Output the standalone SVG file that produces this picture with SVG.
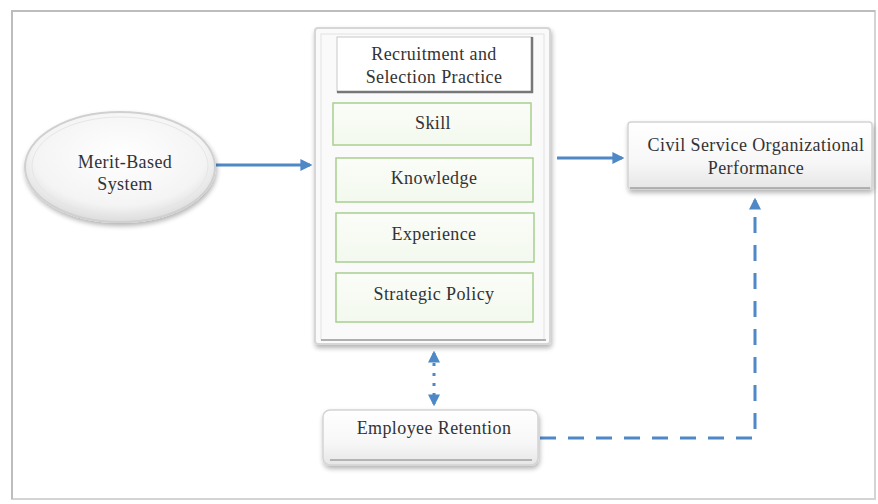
<svg xmlns="http://www.w3.org/2000/svg" width="878" height="504" viewBox="0 0 878 504">
  <style>
    .lbl { font-family: "Liberation Serif", "Times New Roman", serif; font-size: 18px; letter-spacing: 0.4px; fill: #333333; text-anchor: middle; }
    .green { fill: url(#greenFill); stroke: #a8cf8e; stroke-width: 1.5; }
    .flow { stroke: #4f88c6; stroke-width: 3; fill: none; }
  </style>
  <defs>
    <linearGradient id="boxFill" x1="0" y1="0" x2="0" y2="1">
      <stop offset="0" stop-color="#ffffff"/>
      <stop offset="0.6" stop-color="#f7f7f7"/>
      <stop offset="1" stop-color="#e6e6e6"/>
    </linearGradient>
    <linearGradient id="greenFill" x1="0" y1="0" x2="0" y2="1">
      <stop offset="0" stop-color="#fbfdf8"/>
      <stop offset="1" stop-color="#f3f9ee"/>
    </linearGradient>
    <radialGradient id="ovalFill" cx="0.5" cy="0.4" r="0.6">
      <stop offset="0" stop-color="#ffffff"/>
      <stop offset="0.75" stop-color="#f4f4f4"/>
      <stop offset="1" stop-color="#dcdcdc"/>
    </radialGradient>
    <filter id="shadow" x="-10%" y="-10%" width="130%" height="140%">
      <feGaussianBlur in="SourceAlpha" stdDeviation="2.5"/>
      <feOffset dx="1" dy="3" result="b"/>
      <feComponentTransfer><feFuncA type="linear" slope="0.3"/></feComponentTransfer>
      <feMerge><feMergeNode/><feMergeNode in="SourceGraphic"/></feMerge>
    </filter>
    <marker id="head" viewBox="0 0 10 10" refX="8" refY="5" markerWidth="4" markerHeight="4" orient="auto-start-reverse">
      <path d="M0,0 L10,5 L0,10 z" fill="#4f88c6"/>
    </marker>
  </defs>

  <!-- outer frame -->
  <rect x="12" y="11" width="863" height="488" fill="#ffffff" stroke="#d4d4d4" stroke-width="2"/>
  <path d="M12,499 V11 H875" fill="none" stroke="#bdbdbd" stroke-width="2"/>

  <!-- connectors -->
  <g id="connectors">
    <line class="flow" x1="216" y1="165" x2="310" y2="165" marker-end="url(#head)"/>
    <line class="flow" x1="557" y1="158" x2="622" y2="158" marker-end="url(#head)"/>
    <line class="flow" x1="434" y1="353" x2="434" y2="404" stroke-dasharray="3 7" marker-start="url(#head)" marker-end="url(#head)"/>
    <path class="flow" d="M540,438 H755 V200" stroke-dasharray="16 12" marker-end="url(#head)"/>
  </g>

  <!-- Merit-Based System -->
  <g id="merit">
    <ellipse cx="120" cy="167" rx="95" ry="55" fill="url(#ovalFill)" stroke="#d0d0d0" stroke-width="2" filter="url(#shadow)"/>
    <ellipse cx="120" cy="166" rx="88" ry="49" fill="none" stroke="#e6e6e6" stroke-width="1"/>
    <text class="lbl" x="125" y="168">Merit-Based</text>
    <text class="lbl" x="125" y="190">System</text>
  </g>

  <!-- Recruitment and selection group -->
  <g id="recruitment">
    <rect x="315" y="28" width="235" height="316" rx="3" fill="#fafafa" stroke="#d6d6d6" stroke-width="2" filter="url(#shadow)"/>
    <rect x="321" y="34" width="223" height="306" fill="none" stroke="#e2e2e2" stroke-width="1"/>
    <line x1="321" y1="340" x2="546" y2="340" stroke="#9a9a9a" stroke-width="1.5"/>
    <rect x="337" y="37" width="195" height="55" fill="#ffffff" stroke="#c8c8c8" stroke-width="1"/>
    <path d="M337,92 H532 V37" fill="none" stroke="#777777" stroke-width="2.5"/>
    <text class="lbl" x="434" y="60">Recruitment and</text>
    <text class="lbl" x="434" y="83">Selection Practice</text>
  </g>

  <g id="skill">
    <rect class="green" x="333" y="103" width="198" height="42"/>
    <text class="lbl" x="433" y="129">Skill</text>
  </g>
  <g id="knowledge">
    <rect class="green" x="336" y="158" width="197" height="44"/>
    <text class="lbl" x="434" y="184">Knowledge</text>
  </g>
  <g id="experience">
    <rect class="green" x="336" y="213" width="198" height="49"/>
    <text class="lbl" x="434" y="240">Experience</text>
  </g>
  <g id="strategic-policy">
    <rect class="green" x="336" y="273" width="197" height="49"/>
    <text class="lbl" x="434" y="300">Strategic Policy</text>
  </g>

  <!-- Civil Service Organizational Performance -->
  <g id="performance">
    <rect x="628" y="122" width="244" height="67" rx="3" fill="url(#boxFill)" stroke="#d4d4d4" stroke-width="1.5" filter="url(#shadow)"/>
    <line x1="630" y1="188" x2="870" y2="188" stroke="#a0a0a0" stroke-width="1.5"/>
    <text class="lbl" x="756" y="151">Civil Service Organizational</text>
    <text class="lbl" x="756" y="174">Performance</text>
  </g>

  <!-- Employee Retention -->
  <g id="retention">
    <rect x="323" y="410" width="215" height="55" rx="7" fill="url(#boxFill)" stroke="#d4d4d4" stroke-width="1.5" filter="url(#shadow)"/>
    <line x1="330" y1="460" x2="532" y2="460" stroke="#a0a0a0" stroke-width="1.5"/>
    <text class="lbl" x="434" y="434">Employee Retention</text>
  </g>
</svg>
